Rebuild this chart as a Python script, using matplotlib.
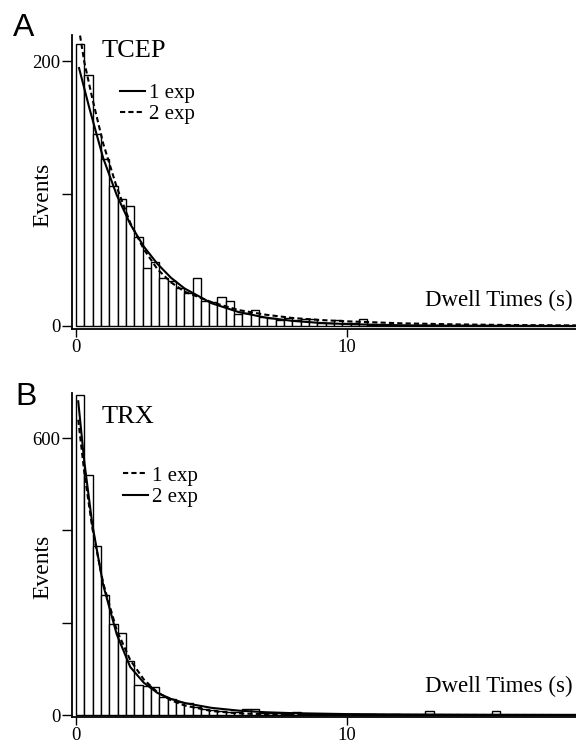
import matplotlib.pyplot as plt
import numpy as np

plt.rcParams['font.family'] = ['Liberation Serif', 'DejaVu Serif']

# histogram bin width (s), bins start at 0
bin_width = 0.307

# Panel A - TCEP dwell time histogram (events per bin)
tcep_counts = [213, 190, 145, 126, 106, 96, 91, 67, 44, 48,
               36, 34, 29, 25, 36, 19, 18, 22, 19, 9,
               10, 12, 7, 6, 4.5, 6, 4.5, 5, 5, 2.5,
               2.5, 4.5, 2.5, 2.5, 5.5, 1, 1, 0, 1, 1,
               0, 1, 0, 1, 0, 0, 1, 0, 0, 1,
               0, 0, 1, 0, 0, 0, 0, 0, 0, 0]

# Panel B - TRX dwell time histogram
trx_counts = [694, 521, 367, 261, 198, 178, 118, 66, 63, 61,
              40, 34, 28, 25, 18, 14, 11, 9, 7, 6,
              12, 12, 5, 4, 4, 3, 7, 3, 3, 2,
              3, 2, 2, 2, 1, 2, 1, 1, 2, 1,
              1, 1, 9, 1, 1, 0, 1, 1, 1, 0,
              9, 1, 0, 1, 0, 1, 0, 0, 1, 0]

# fit curves, points
tcep_1exp_t = [0.11, 0.5, 1.0, 1.5, 2.0, 2.5, 3.0, 3.5, 4.0, 5.0, 6.0, 7.0, 8.0, 9.0, 10.0, 12.0, 14.0, 18.5]
tcep_1exp_y = [195, 164, 127, 99, 77, 60, 47, 36.5, 28.4, 17.2, 10.5, 6.3, 3.8, 2.3, 1.4, 0.5, 0.2, 0.0]
tcep_2exp_t = [0.05, 0.3, 0.6, 1.0, 1.5, 2.0, 2.5, 3.0, 3.5, 4.0, 5.0, 6.0, 7.0, 8.0, 9.0, 10.0, 12.0, 14.0, 16.0, 18.5]
tcep_2exp_y = [232, 200, 172, 138, 105, 78, 58, 43, 33, 26, 18, 12, 8.5, 6, 4.5, 3.5, 2, 1.2, 0.7, 0.4]

trx_1exp_t = [0.08, 0.3, 0.6, 1.0, 1.5, 2.0, 2.5, 3.0, 3.5, 4.0, 5.0, 6.0, 7.0, 8.0, 10.0, 18.5]
trx_1exp_y = [640, 528, 405, 286, 184, 119, 77, 49.5, 32, 20.7, 8.6, 3.6, 1.5, 0.6, 0.1, 0.0]
trx_2exp_t = [0.08, 0.3, 0.6, 1.0, 1.5, 2.0, 2.5, 3.0, 3.5, 4.0, 5.0, 6.0, 7.0, 8.0, 10.0, 12.0, 15.0, 18.5]
trx_2exp_y = [680, 551, 413, 282, 175, 104, 70, 48, 35, 26, 15.5, 9.5, 6, 4, 2, 1.2, 0.6, 0.3]

fig = plt.figure(figsize=(5.76, 7.44), dpi=100)
axA = fig.add_axes([0.125, 0.5578, 0.875, 0.3952])
axB = fig.add_axes([0.125, 0.0363, 0.875, 0.4355])


def draw_hist(ax, counts):
    left = np.arange(len(counts)) * bin_width
    ax.bar(left, counts, width=bin_width, align='edge', facecolor='white',
           edgecolor='black', linewidth=1.0, zorder=2)


def style(ax, ylim, yticks, ylabels):
    ax.set_xlim(-0.15, 18.45)
    ax.set_ylim(*ylim)
    for s in ['top', 'right']:
        ax.spines[s].set_visible(False)
    for s in ['left', 'bottom']:
        ax.spines[s].set_linewidth(1.3)
    ax.set_xticks([0, 10])
    ax.set_xticklabels(['0', '10'])
    ax.set_yticks(yticks)
    ax.set_yticklabels(ylabels)
    ax.tick_params(axis='x', length=6, width=1, pad=1.5, labelsize=13.5)
    ax.tick_params(axis='y', length=7.5, width=1, pad=1, labelsize=13.5)
    ax.text(0.994, 0.078, 'Dwell Times (s)', transform=ax.transAxes,
            ha='right', va='baseline', fontsize=16.5)


# Panel A
draw_hist(axA, tcep_counts)
axA.plot(tcep_1exp_t, tcep_1exp_y, color='black', lw=1.5, ls='-', label='1 exp', zorder=3)
axA.plot(tcep_2exp_t, tcep_2exp_y, color='black', lw=1.5, ls=(0, (2.5, 1.5)), label='2 exp', zorder=3)
style(axA, (-2.3, 220), [0, 100, 200], ['0', '', '200'])
axA.text(0.0595, 0.925, 'TCEP', transform=axA.transAxes, fontsize=19, va='baseline')
axA.text(-0.0575, 0.456, 'Events', transform=axA.transAxes, fontsize=17,
         rotation=90, ha='center', va='center')
axA.legend(loc='upper left', bbox_to_anchor=(0.095, 0.835), frameon=False,
           fontsize=15, handlelength=1.2, handletextpad=0.2, labelspacing=0.08,
           borderpad=0, borderaxespad=0)

# Panel B
draw_hist(axB, trx_counts)
axB.plot(trx_1exp_t, trx_1exp_y, color='black', lw=1.5, ls=(0, (2.5, 1.5)), label='1 exp', zorder=3)
axB.plot(trx_2exp_t, trx_2exp_y, color='black', lw=1.5, ls='-', label='2 exp', zorder=3)
style(axB, (-4.3, 698), [0, 200, 400, 600], ['0', '', '', '600'])
axB.text(0.0595, 0.907, 'TRX', transform=axB.transAxes, fontsize=19, va='baseline')
axB.text(-0.0575, 0.463, 'Events', transform=axB.transAxes, fontsize=17,
         rotation=90, ha='center', va='center')
axB.legend(loc='upper left', bbox_to_anchor=(0.101, 0.774), frameon=False,
           fontsize=15, handlelength=1.2, handletextpad=0.2, labelspacing=0.08,
           borderpad=0, borderaxespad=0)

# panel letters
fig.text(13 / 576, 1 - 36 / 744, 'A', family='Liberation Sans', fontsize=23)
fig.text(15 / 576, 1 - 405 / 744, 'B', family='Liberation Sans', fontsize=23)

fig.savefig('out.png', dpi=100)
